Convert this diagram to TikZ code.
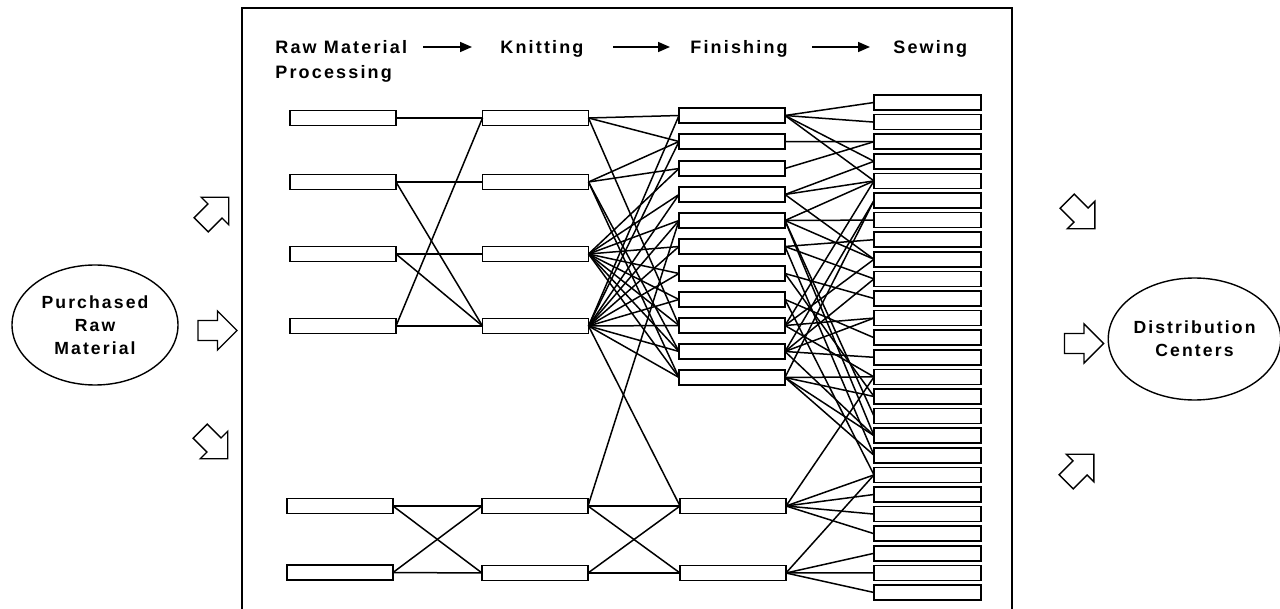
\documentclass[tikz,border=0pt]{standalone}
\usepackage{fontspec}
\setmainfont{Liberation Sans}
\newfontfamily\lblfont[LetterSpace=12]{Liberation Sans Bold}
\usetikzlibrary{arrows.meta,shapes.geometric}
\begin{document}
\begin{tikzpicture}[x=0.5pt,y=-0.5pt,
  box/.style={draw, line width=0.75pt, minimum width=53pt, minimum height=7.5pt, inner sep=0pt, outer sep=0pt},
  conn/.style={line width=0.75pt},
  hdr/.style={font=\lblfont\fontsize{9}{12.5}\selectfont, inner sep=0pt, align=left, anchor=north west},
  oval/.style={draw, ellipse, line width=0.7pt, inner sep=0pt, align=center, font=\lblfont\fontsize{8.8}{11.5}\selectfont},
  flow/.style={-{Triangle[length=6pt,width=5pt]}, line width=0.8pt},
  barrow/.pic={\draw[line width=0.7pt, line join=miter] (-19.5,-10) -- (0,-10) -- (0,-19.5) -- (19.5,0) -- (0,19.5) -- (0,10) -- (-19.5,10) -- cycle;}
]
\useasboundingbox (0,0) rectangle (1280,609);
% frame
\draw[line width=0.75pt] (242,609) -- (242,8) -- (1012,8) -- (1012,609);
% header
\node[hdr] (hraw) at (275,40) {Raw Material\\Processing};
\node[hdr] (hkn) at (500,40) {Knitting};
\node[hdr] (hfin) at (690,40) {Finishing};
\node[hdr] (hsew) at (893,40) {Sewing};
\coordinate (a1s) at (423,47); \coordinate (a1e) at (472,47);
\coordinate (a2s) at (613,47); \coordinate (a2e) at (670,47);
\coordinate (a3s) at (812,47); \coordinate (a3e) at (870,47);
\draw[flow] (a1s) -- (a1e);
\draw[flow] (a2s) -- (a2e);
\draw[flow] (a3s) -- (a3e);
% ellipses
\node[oval, minimum width=83pt, minimum height=60pt] (prm) at (95,325) {Purchased\\Raw\\Material};
\node[oval, minimum width=82.5pt, minimum height=61pt] (dc) at (1194.5,339) {Distribution\\Centers};
% block arrows
\pic[rotate=45] at (215,211) {barrow};
\pic at (217.5,330.5) {barrow};
\pic[rotate=-45] at (214,445) {barrow};
\pic[rotate=-45] at (1081,215) {barrow};
\pic at (1084,343.5) {barrow};
\pic[rotate=45] at (1080,468) {barrow};
% raw material processing
\foreach \i/\y in {1/118,2/182,3/254,4/326} {\node[box] (r\i) at (343,\y) {};}
\node[box] (r5) at (340,506) {};
\node[box] (r6) at (340,572.5) {};
% knitting
\foreach \i/\y in {1/118,2/182,3/254,4/326} {\node[box] (k\i) at (535.5,\y) {};}
\node[box] (k5) at (535,506) {};
\node[box] (k6) at (535,573) {};
% finishing
\foreach \i/\y in {1/115.5,2/141.5,3/168.5,4/194.5,5/220.5,6/246.5,7/273.5,8/299.5,9/325.5,10/351.5,11/377.5} {\node[box] (f\i) at (732,\y) {};}
\node[box] (f12) at (733,506) {};
\node[box] (f13) at (733,573) {};
% sewing
\foreach \i in {0,...,25} {\node[box, minimum width=53.5pt] (s\i) at (927.5,{102.5+19.6*\i}) {};}
% connectors: raw material -> knitting
\foreach \a/\b in {r1/k1,r2/k2,r2/k4,r3/k3,r3/k4,r4/k4,r4/k1,r5/k5,r5/k6,r6/k6,r6/k5}
  {\draw[conn] (\a.east) -- (\b.west);}
% knitting -> finishing
\foreach \a/\b in {k1/f1,k1/f2,k1/f9,
  k2/f2,k2/f3,k2/f10,k2/f11,
  k3/f3,k3/f4,k3/f5,k3/f6,k3/f7,k3/f8,k3/f9,k3/f10,k3/f11,
  k4/f1,k4/f2,k4/f4,k4/f5,k4/f6,k4/f7,k4/f8,k4/f9,k4/f10,k4/f11,k4/f12,
  k5/f5,k5/f12,k5/f13,k6/f12,k6/f13}
  {\draw[conn] (\a.east) -- (\b.west);}
% finishing -> sewing
\foreach \a/\b in {f1/s0,f1/s1,f1/s3,f1/s4,
  f2/s2,f3/s2,
  f4/s3,f4/s4,f4/s8,
  f5/s4,f5/s6,f5/s8,f5/s16,f5/s17,
  f6/s7,f6/s9,f6/s18,
  f7/s10,f7/s15,
  f8/s12,f8/s19,
  f9/s4,f9/s8,f9/s11,f9/s14,
  f10/s5,f10/s9,f10/s11,f10/s13,f10/s17,
  f11/s5,f11/s14,f11/s15,f11/s17,f11/s18,
  f12/s14,f12/s19,f12/s20,f12/s21,f12/s22,
  f13/s19,f13/s23,f13/s24,f13/s25}
  {\draw[conn] (\a.east) -- (\b.west);}
\end{tikzpicture}
\end{document}
